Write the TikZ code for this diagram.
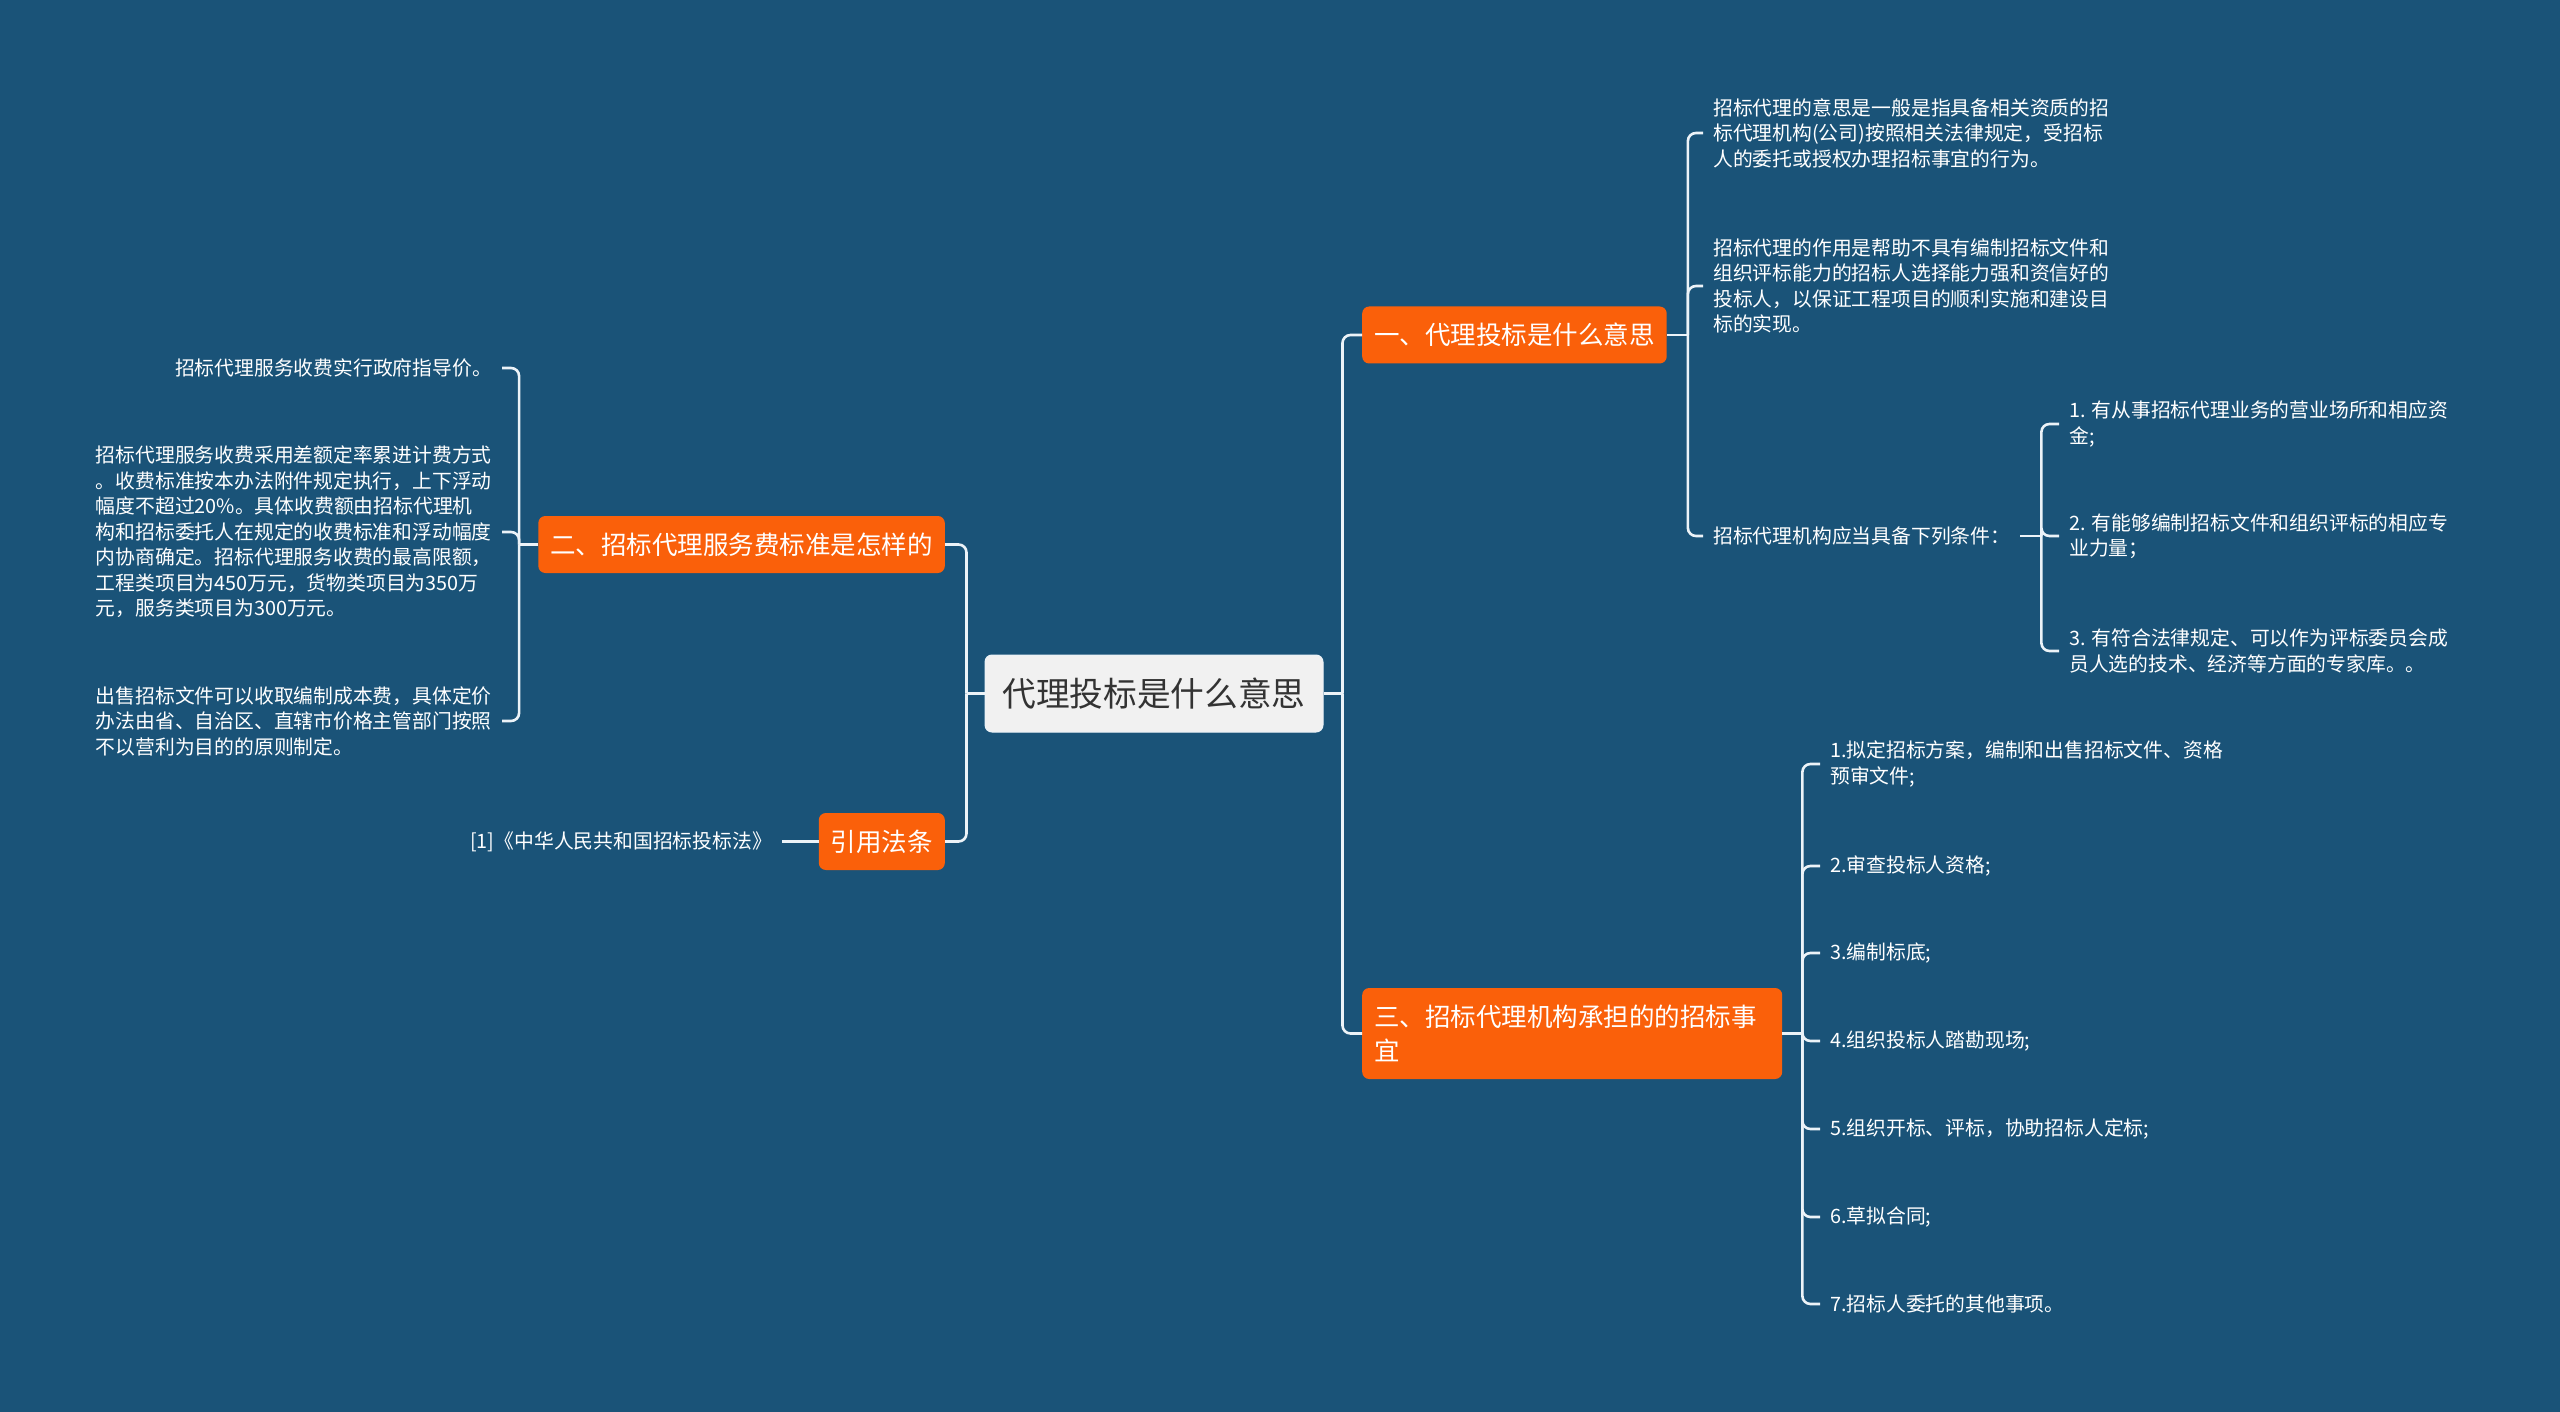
\documentclass[tikz,border=0pt]{standalone}
\usepackage{fontspec}
\setmainfont{Noto Sans CJK SC}
\definecolor{bgblue}{RGB}{26,83,120}
\definecolor{topicor}{RGB}{250,96,10}
\definecolor{rootgr}{RGB}{241,241,241}
\definecolor{linewh}{RGB}{236,243,248}

\begin{document}
\begin{tikzpicture}[x=1pt,y=-1pt,
    root/.style={fill=rootgr,draw=linewh,line width=1pt,rounded corners=7pt,text=black!80,
      font=\fontsize{33.7pt}{40pt}\selectfont,minimum width=338pt,minimum height=77pt,inner sep=0pt},
    topic/.style={fill=topicor,rounded corners=7pt,text=white,font=\fontsize{25.5pt}{34pt}\selectfont,
      inner xsep=12pt,inner ysep=0pt,minimum height=57pt},
    leaf/.style={text=white,font=\fontsize{19.8pt}{25.5pt}\selectfont,align=left,inner xsep=10pt,inner ysep=2pt},
    link/.style={draw=linewh,line width=2.6pt,rounded corners=8pt}]
    \fill[bgblue] (0,0) rectangle (2560,1412);
    % centre and main topics
    \node[root] (ctr) at (1154,693.5) {代理投标是什么意思};
    \node[topic,anchor=west] (t1) at (1362,335) {一、代理投标是什么意思};
    \node[topic,anchor=east] (t2) at (945,544.5) {二、招标代理服务费标准是怎样的};
    \node[topic,anchor=west,text width=396pt,align=left,minimum height=91pt] (t3) at (1362,1033.5) {三、招标代理机构承担的的招标事\\宜};
    \node[topic,anchor=east] (t4) at (945,841.5) {引用法条};
    % topic one
    \node[leaf,anchor=west] (a1) at (1703,133) {招标代理的意思是一般是指具备相关资质的招\\标代理机构(公司)按照相关法律规定，受招标\\人的委托或授权办理招标事宜的行为。};
    \node[leaf,anchor=west] (a2) at (1703,286) {招标代理的作用是帮助不具有编制招标文件和\\组织评标能力的招标人选择能力强和资信好的\\投标人，以保证工程项目的顺利实施和建设目\\标的实现。};
    \node[leaf,anchor=west] (a3) at (1703,536) {招标代理机构应当具备下列条件：};
    \node[leaf,anchor=west] (c1) at (2059,424) {1. 有从事招标代理业务的营业场所和相应资\\金;};
    \node[leaf,anchor=west] (c2) at (2059,536) {2. 有能够编制招标文件和组织评标的相应专\\业力量；};
    \node[leaf,anchor=west] (c3) at (2059,651) {3. 有符合法律规定、可以作为评标委员会成\\员人选的技术、经济等方面的专家库。。};
    % topic two
    \node[leaf,anchor=east] (b1) at (502,368) {招标代理服务收费实行政府指导价。};
    \node[leaf,anchor=east] (b2) at (502,532) {招标代理服务收费采用差额定率累进计费方式\\。收费标准按本办法附件规定执行，上下浮动\\幅度不超过20\%。具体收费额由招标代理机\\构和招标委托人在规定的收费标准和浮动幅度\\内协商确定。招标代理服务收费的最高限额，\\工程类项目为450万元，货物类项目为350万\\元，服务类项目为300万元。};
    \node[leaf,anchor=east] (b3) at (502,721) {出售招标文件可以收取编制成本费，具体定价\\办法由省、自治区、直辖市价格主管部门按照\\不以营利为目的的原则制定。};
    % topic three
    \node[leaf,anchor=west] (d1) at (1820,764) {1.拟定招标方案，编制和出售招标文件、资格\\预审文件;};
    \node[leaf,anchor=west] (d2) at (1820,866) {2.审查投标人资格;};
    \node[leaf,anchor=west] (d3) at (1820,953) {3.编制标底;};
    \node[leaf,anchor=west] (d4) at (1820,1041) {4.组织投标人踏勘现场;};
    \node[leaf,anchor=west] (d5) at (1820,1129) {5.组织开标、评标，协助招标人定标;};
    \node[leaf,anchor=west] (d6) at (1820,1217) {6.草拟合同;};
    \node[leaf,anchor=west] (d7) at (1820,1304) {7.招标人委托的其他事项。};
    % law
    \node[leaf,anchor=east] (r1) at (782,841.5) {[1]《中华人民共和国招标投标法》};

    % connectors
    \draw[link] (ctr.west) -- ++(-18,0) coordinate (lj);
    \draw[link] (ctr.east) -- ++(19,0) coordinate (rj);
    \foreach \n in {t2,t4} \draw[link] (lj) |- (\n.east);
    \foreach \n in {t1,t3} \draw[link] (rj) |- (\n.west);
    \draw[link] (t1.east) -- ++(21,0) coordinate (j1);
    \foreach \n in {a1,a2,a3} \draw[link] (j1) |- (\n.west);
    \draw[link] (a3.east) -- ++(21,0) coordinate (j4);
    \foreach \n in {c1,c2,c3} \draw[link] (j4) |- (\n.west);
    \draw[link] (t2.west) -- ++(-19,0) coordinate (j2);
    \foreach \n in {b1,b2,b3} \draw[link] (j2) |- (\n.east);
    \draw[link] (t3.east) -- ++(20,0) coordinate (j3);
    \foreach \n in {d1,d2,d3,d4,d5,d6,d7} \draw[link] (j3) |- (\n.west);
    \draw[link] (t4.west) -- (r1.east);
\end{tikzpicture}
\end{document}
